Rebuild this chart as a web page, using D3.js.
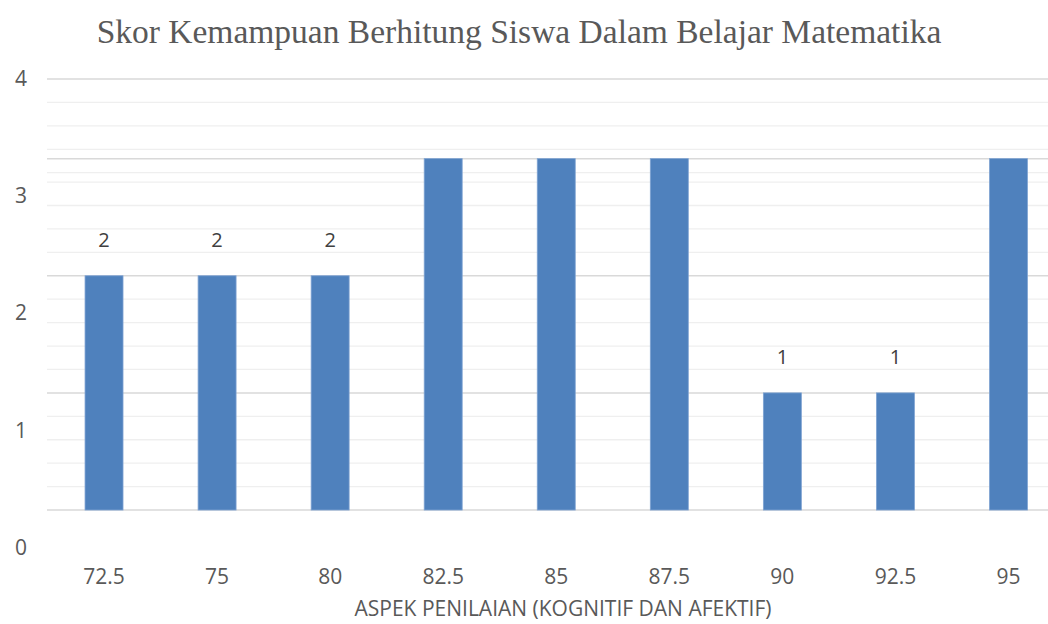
<!DOCTYPE html>
<html>
<head>
<meta charset="utf-8">
<script src="https://cdn.jsdelivr.net/npm/d3@7"></script>
<style>
  body { margin: 0; background: #fff; }
  text { font-family: "Open Sans", sans-serif; fill: #595959; }
</style>
</head>
<body>
<div class="chart"></div>
<script>
// data
var categories = ["72.5", "75", "80", "82.5", "85", "87.5", "90", "92.5", "95"];
var counts = [2, 2, 2, 3, 3, 3, 1, 1, 3];
var shownLabels = [true, true, true, false, false, false, true, true, false];
var yTicks = [0, 1, 2, 3, 4];

var title = "Skor Kemampuan Berhitung Siswa Dalam Belajar Matematika";
var xTitle = "ASPEK PENILAIAN (KOGNITIF DAN AFEKTIF)";

const width = 1048, height = 624;
// the bars sit on a baseline that is a bit above the "0" label in the original
const baseShift = 0.32;

var svg = d3.select(".chart").append("svg")
  .attr("width", width)
  .attr("height", height);

var x = d3.scaleBand()
  .domain(categories)
  .range([47.5, 1065])
  .paddingInner(0.664)
  .paddingOuter(0.332);

var y = d3.scaleLinear()
  .domain([0, 4])
  .range([547.5, 79]);

// gridlines: lower set follows the bar baseline, upper set follows the labels
var lowerGrid = d3.range(0, 16).map(k => ({ v: baseShift + k * 0.2, major: k % 5 === 0 }));
var upperGrid = d3.range(0, 5).map(k => ({ v: 4 - k * 0.2, major: k === 0 }));
var grid = upperGrid.concat(lowerGrid);

svg.append("g")
  .selectAll("line")
  .data(grid.filter(d => !d.major))
  .enter()
  .append("line")
  .attr("x1", 47).attr("x2", width)
  .attr("y1", d => y(d.v)).attr("y2", d => y(d.v))
  .attr("stroke", "#efefef")
  .attr("stroke-width", 1.3);

svg.append("g")
  .selectAll("line")
  .data(grid.filter(d => d.major))
  .enter()
  .append("line")
  .attr("x1", 47).attr("x2", width)
  .attr("y1", d => y(d.v)).attr("y2", d => y(d.v))
  .attr("stroke", "#d9d9d9")
  .attr("stroke-width", 1.5);

// bars
svg.append("g")
  .selectAll("rect")
  .data(counts)
  .enter()
  .append("rect")
  .attr("x", (d, i) => x(categories[i]))
  .attr("width", x.bandwidth())
  .attr("y", d => y(d + baseShift))
  .attr("height", d => y(baseShift) - y(d + baseShift))
  .attr("fill", "#4f81bd")
  .attr("stroke", "#7fa3d3")
  .attr("stroke-width", 0.8);

// data labels
svg.append("g")
  .selectAll("text")
  .data(counts.map((d, i) => ({ v: d, c: categories[i], show: shownLabels[i] })).filter(d => d.show))
  .enter()
  .append("text")
  .attr("x", d => x(d.c) + x.bandwidth() / 2)
  .attr("y", d => y(d.v + baseShift) - 36)
  .attr("dy", "0.35em")
  .attr("text-anchor", "middle")
  .style("font-size", "20px")
  .style("fill", "#404040")
  .text(d => d.v);

// y axis labels
var yAxis = d3.axisLeft(y).tickValues(yTicks).tickFormat(d3.format("d")).tickSize(0).tickPadding(0);
var yg = svg.append("g")
  .attr("transform", "translate(27,0)")
  .call(yAxis);
yg.select(".domain").remove();
yg.selectAll("text")
  .style("font-size", "21px")
  .style("font-family", "\"Open Sans\", sans-serif")
  .attr("fill", "#595959");

// x axis labels
var xAxis = d3.axisBottom(x).tickSize(0).tickPadding(0);
var xg = svg.append("g")
  .attr("transform", "translate(0,569)")
  .call(xAxis);
xg.select(".domain").remove();
xg.selectAll("text")
  .style("font-size", "21px")
  .style("font-family", "\"Open Sans\", sans-serif")
  .attr("fill", "#595959");

// axis title
svg.append("text")
  .attr("x", 563)
  .attr("y", 609)
  .attr("dy", "0.35em")
  .attr("text-anchor", "middle")
  .style("font-size", "21px")
  .text(xTitle);

// chart title
svg.append("text")
  .attr("x", 519)
  .attr("y", 31)
  .attr("dy", "0.35em")
  .attr("text-anchor", "middle")
  .style("font-family", "\"Liberation Serif\", serif")
  .style("font-size", "33.5px")
  .text(title);
</script>
</body>
</html>
